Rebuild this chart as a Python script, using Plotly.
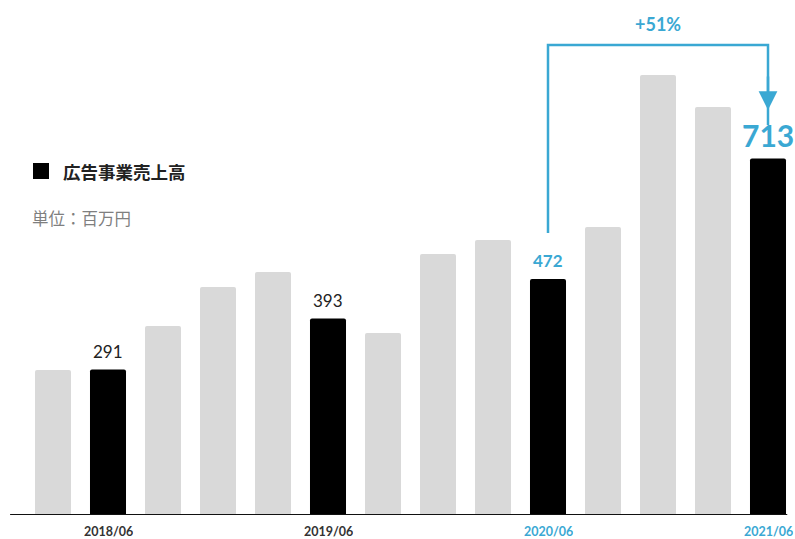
import plotly.graph_objects as go

# ---- data ----
values = [290, 291, 378, 456, 486, 393, 364, 522, 550, 472, 576, 880, 816, 713]
highlight = [False, True, False, False, False, True, False, False, False, True, False, False, False, True]
tick_idx = [1, 5, 9, 13]
tick_labels = ["2018/06", "2019/06", "2020/06", "2021/06"]
tick_blue = [False, False, True, True]
value_labels = {1: "291", 5: "393", 9: "472", 13: "713"}
growth_label = "+51%"
legend_label = "広告事業売上高"
unit_label = "単位：百万円"

BLUE = "#3aa8d3"
GRAY = "#d9d9d9"
W, H = 795, 539
PLOT_H = 515

x = list(range(len(values)))
colors = ["#000000" if h else GRAY for h in highlight]

fig = go.Figure()
fig.add_trace(go.Bar(x=x, y=values, marker=dict(color=colors, line=dict(width=0), cornerradius=2),
                     width=0.655, hoverinfo="skip"))

ann = []
# value labels
for i, t in value_labels.items():
    big = i == 13
    blue = i in (9, 13)
    ann.append(dict(x=i, y=values[i], xref="x", yref="y", text=f"<b>{t}</b>" if blue else t,
                    showarrow=False, yanchor="bottom", yshift=6 if not big else 4,
                    font=dict(family="Lato", size=30 if big else 17,
                              color=BLUE if blue else "#222222")))
# tick labels
for i, t, b in zip(tick_idx, tick_labels, tick_blue):
    ann.append(dict(x=i, y=0, xref="x", yref="y", text=f"<b>{t}</b>", showarrow=False,
                    yanchor="top", yshift=-9, height=12, borderpad=0,
                    font=dict(family="Lato", size=12.5, color=BLUE if b else "#333333")))

# growth bracket
a_start, a_end = 9, 13
y_low, y_top, y_tip = 564, 940, 810
fig.add_trace(go.Scatter(x=[a_start, a_start, a_end, a_end], y=[y_low, y_top, y_top, y_tip - 30],
                         mode="lines", line=dict(color=BLUE, width=2.5), hoverinfo="skip"))
ann.append(dict(x=a_end, y=y_tip, ax=a_end, ay=y_top - 60, xref="x", yref="y", axref="x", ayref="y",
                text="", showarrow=True, arrowhead=2, arrowsize=1.5, arrowwidth=2.5,
                arrowcolor=BLUE, standoff=0))
ann.append(dict(x=(a_start + a_end) / 2, y=y_top, xref="x", yref="y", text=f"<b>{growth_label}</b>",
                showarrow=False, yanchor="bottom", yshift=8,
                font=dict(family="Lato", size=18, color=BLUE)))

# legend text
def py(p):
    return (PLOT_H - p) / PLOT_H

ann.append(dict(x=61 / W, y=py(171), xref="paper", yref="paper", text=f"<b>{legend_label}</b>",
                showarrow=False, xanchor="left", yanchor="middle",
                font=dict(family="Noto Sans CJK JP", size=17.5, color="#222222")))
ann.append(dict(x=30 / W, y=py(218), xref="paper", yref="paper", text=unit_label,
                showarrow=False, xanchor="left", yanchor="middle",
                font=dict(family="Noto Sans CJK JP", size=16.5, color="#7f7f7f")))

shapes = [
    dict(type="rect", xref="paper", yref="paper", x0=33 / W, x1=49 / W, y0=py(179), y1=py(163),
         fillcolor="#000000", line=dict(width=0)),
    dict(type="line", xref="x", yref="y", x0=-0.78, x1=13.35, y0=0, y1=0,
         line=dict(color="#111111", width=2)),
]

fig.update_layout(
    width=W, height=H,
    margin=dict(l=0, r=0, t=0, b=H - PLOT_H),
    paper_bgcolor="white", plot_bgcolor="white",
    showlegend=False,
    xaxis=dict(range=[-53 / 55, (W - 53) / 55], visible=False, fixedrange=True),
    yaxis=dict(range=[0, PLOT_H / 0.5], visible=False, fixedrange=True),
    annotations=ann, shapes=shapes,
)
fig.write_html("out.html")
